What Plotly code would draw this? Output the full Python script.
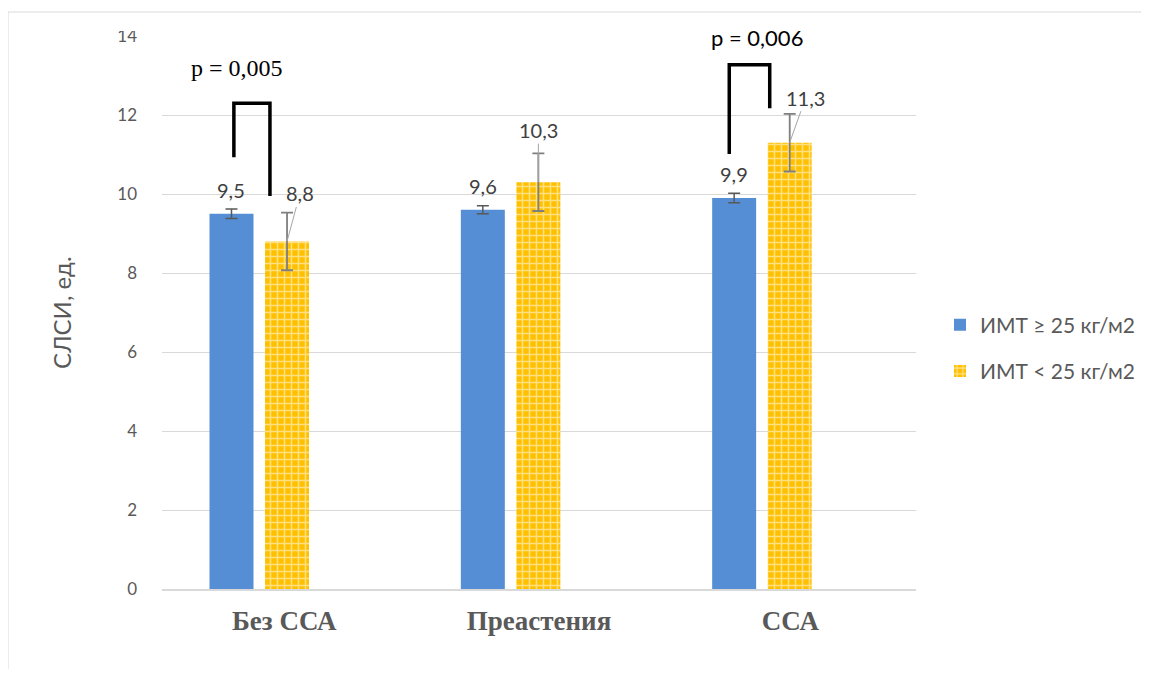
import plotly.graph_objects as go

categories = ["Без ССА", "Преастения", "ССА"]
series_names = ["ИМТ ≥ 25 кг/м2", "ИМТ < 25 кг/м2"]
high_bmi = [9.5, 9.6, 9.9]
high_bmi_err = [0.12, 0.10, 0.12]
low_bmi = [8.8, 10.3, 11.3]
low_bmi_err = [0.73, 0.73, 0.73]
value_labels_high = ["9,5", "9,6", "9,9"]
value_labels_low = ["8,8", "10,3", "11,3"]
p_labels = ["p = 0,005", "p = 0,006"]

# page body has an 8px margin, so figure coords = page coords - 8
OFF = 8
W, H = 1149 - 2 * OFF, 677 - 2 * OFF
L, R, T, B = 162 - OFF, 916 - OFF, 36 - OFF, 589 - OFF
BLUE = "#558ED5"
GOLD = "#FFC000"
GRAY = "#595959"

def px(xpage):
    return (xpage - OFF - L) / (R - L)

def py(ypage):
    return (B - (ypage - OFF)) / (B - T)

xpos = list(range(len(categories)))
bar_w = 0.175
off_blue = -0.311
off_gold = -0.090

fig = go.Figure()
fig.add_trace(go.Bar(
    x=xpos, y=high_bmi, name=series_names[0], width=bar_w, offset=off_blue,
    marker=dict(color=BLUE, line=dict(width=0)),
    error_y=dict(type="data", array=high_bmi_err, color=GRAY, thickness=1.5, width=6),
    legendgroup="a",
))
fig.add_trace(go.Bar(
    x=xpos, y=low_bmi, name=series_names[1], width=bar_w, offset=off_gold,
    marker=dict(color=GOLD, line=dict(width=0),
                pattern=dict(shape="+", fgcolor="white", bgcolor=GOLD, size=7, solidity=0.4)),
    error_y=dict(type="data", array=low_bmi_err, color="#7f7f7f", thickness=1.8, width=6),
    legendgroup="b",
))

label_font = dict(family="Lato, Liberation Sans, sans-serif", size=20, color="#404040")
for i, (v, t) in enumerate(zip(high_bmi, value_labels_high)):
    fig.add_annotation(x=i + off_blue + bar_w / 2, y=v, text=t, showarrow=False,
                       yanchor="middle", yshift=24, font=label_font)
low_ax = [13, 0, 16]
low_ay = [-48, -52, -45]
for i, (v, t) in enumerate(zip(low_bmi, value_labels_low)):
    fig.add_annotation(x=i + off_gold + bar_w / 2, y=v, text=t, showarrow=True,
                       arrowhead=0, arrowwidth=1, arrowcolor="#a6a6a6",
                       ax=low_ax[i], ay=low_ay[i], font=label_font)

# significance brackets
bk = dict(color="black", width=3.5)
def bracket(x0, x1, yl, yr, ytop):
    fig.add_shape(type="path", xref="x", yref="y",
                  path=f"M {x0} {yl} L {x0} {ytop} L {x1} {ytop} L {x1} {yr}",
                  line=bk)
bracket(-0.214, -0.0705, 10.93, 9.95, 12.30)
bracket(1.757, 1.918, 11.01, 12.17, 13.27)

fig.add_annotation(x=-0.203, y=13.2, text=p_labels[0], showarrow=False,
                   font=dict(family="Liberation Serif, serif", size=24, color="black"))
fig.add_annotation(x=1.867, y=13.95, text=p_labels[1], showarrow=False,
                   font=dict(family="Lato, Liberation Sans, sans-serif", size=22, color="black"))

# axis title
fig.add_annotation(xref="paper", yref="paper", x=px(61), y=py(313),
                   xanchor="center", yanchor="middle",
                   text="СЛСИ, ед.", textangle=-90, showarrow=False,
                   font=dict(family="Lato, Liberation Sans, sans-serif", size=24, color=GRAY))

# chart border
fig.add_shape(type="rect", xref="paper", yref="paper",
              x0=px(8), x1=px(1148), y0=py(720), y1=py(12),
              line=dict(color="#d9d9d9", width=1), fillcolor="rgba(0,0,0,0)", layer="below")
# clip of top tick label as in the reference
fig.add_shape(type="rect", xref="paper", yref="paper",
              x0=px(100), x1=px(150), y0=py(31), y1=py(14),
              line=dict(width=0), fillcolor="white", layer="above")

tick_text = [f"<b>{c}</b>" for c in categories]
tick_text[0] = tick_text[0] + "\u00a0"

fig.update_layout(
    width=W, height=H,
    margin=dict(l=L, r=W - R, t=T, b=H - B, autoexpand=False),
    paper_bgcolor="white", plot_bgcolor="white",
    barmode="overlay",
    showlegend=True,
    legend=dict(x=px(940), y=py(348), xanchor="left", yanchor="middle",
                font=dict(family="Lato, Liberation Sans, sans-serif", size=21, color=GRAY),
                traceorder="grouped", tracegroupgap=16, itemwidth=30),
    xaxis=dict(range=[-0.5, 2.5], tickvals=xpos, ticktext=tick_text,
               tickfont=dict(family="Liberation Serif, serif", size=27, color=GRAY),
               showgrid=False, zeroline=False, showline=True, linecolor="#d9d9d9", linewidth=1.5,
               ticks="", ticklabelstandoff=7),
    yaxis=dict(range=[0, 14], dtick=2, showgrid=True, gridcolor="#d9d9d9", gridwidth=1,
               zeroline=False, showline=False, ticks="",
               tickfont=dict(family="Lato, Liberation Sans, sans-serif", size=17, color=GRAY),
               ticklabelstandoff=24),
)

fig.write_html("out.html")
